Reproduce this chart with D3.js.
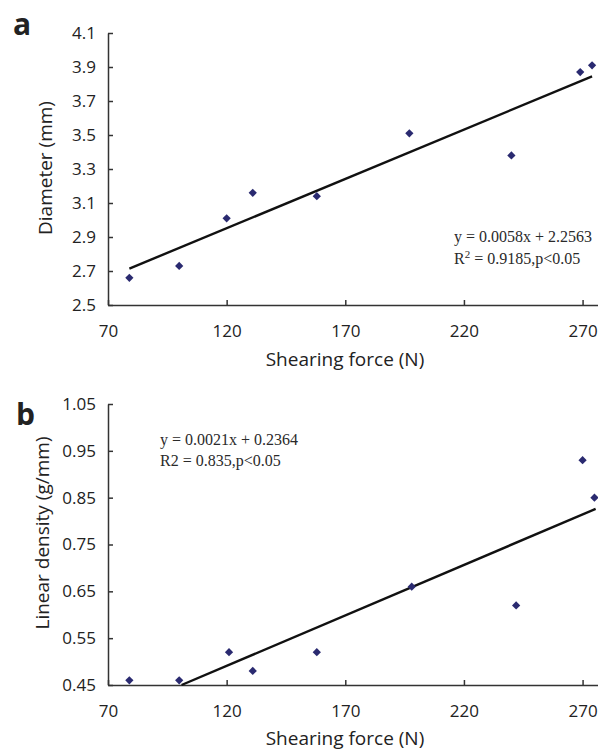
<!DOCTYPE html>
<html>
<head>
<meta charset="utf-8">
<script src="https://cdn.jsdelivr.net/npm/d3@7"></script>
<style>
  body { margin: 0; background: #fff; }
  svg { display: block; }
  .tick text { font-family: "Open Sans", sans-serif; font-size: 17px; fill: #222; }
  .domain, .tick line { stroke: #333; stroke-width: 1.5; }
</style>
</head>
<body>
<svg id="chart" width="598" height="752"></svg>
<script>
// ---- Data ----
const shearA = [79, 100, 120, 131, 158, 197, 240, 269, 274];
const diameter = [2.66, 2.73, 3.01, 3.16, 3.14, 3.51, 3.38, 3.87, 3.91];
const fitA_x = [79, 274];
const fitA_y = [2.714, 3.845];

const shearB = [79, 100, 121, 131, 158, 198, 242, 270, 275];
const linDensity = [0.46, 0.46, 0.52, 0.48, 0.52, 0.66, 0.62, 0.93, 0.85];
const fitB_x = [101, 275.5];
const fitB_y = [0.45, 0.826];

const xTicks = [70, 120, 170, 220, 270];
const yTicksA = [2.5, 2.7, 2.9, 3.1, 3.3, 3.5, 3.7, 3.9, 4.1];
const yTicksB = [0.45, 0.55, 0.65, 0.75, 0.85, 0.95, 1.05];

const eqA = ["y = 0.0058x + 2.2563", "R", "2", " = 0.9185,p<0.05"];
const eqB = ["y = 0.0021x + 0.2364", "R2 = 0.835,p<0.05"];

// ---- Drawing ----
const svg = d3.select("#chart");
const markColor = "#2a2a70";

function panel(opts) {
  const g = svg.append("g");
  const x = d3.scaleLinear().domain([70, 276.5]).range([108, 598]);
  const y = d3.scaleLinear().domain(opts.yDomain).range([opts.bottom, opts.top]);

  g.append("g")
    .attr("transform", `translate(0,${opts.bottom})`)
    .call(d3.axisBottom(x).tickValues(xTicks).tickFormat(d3.format("d"))
      .tickSizeInner(-5).tickSizeOuter(0).tickPadding(20));

  g.append("g")
    .attr("transform", `translate(108,0)`)
    .call(d3.axisLeft(y).tickValues(opts.yTicks).tickFormat(opts.fmt)
      .tickSizeInner(-5).tickSizeOuter(0).tickPadding(12));

  // fit line
  const line = d3.line().x(d => x(d[0])).y(d => y(d[1]));
  g.append("path")
    .datum(opts.fitX.map((v, i) => [v, opts.fitY[i]]))
    .attr("d", line)
    .attr("fill", "none")
    .attr("stroke", "#111")
    .attr("stroke-width", 2.4);

  // markers (square rotated 45deg -> diamond)
  const sym = d3.symbol().type(d3.symbolSquare).size(34);
  g.selectAll("path.pt")
    .data(opts.xs.map((v, i) => [v, opts.ys[i]]))
    .join("path")
    .attr("class", "pt")
    .attr("d", sym)
    .attr("transform", d => `translate(${x(d[0])},${y(d[1])}) rotate(45)`)
    .attr("fill", markColor);

  // panel letter
  g.append("text")
    .attr("x", opts.letterX).attr("y", opts.letterY)
    .attr("font-family", "Open Sans, sans-serif")
    .attr("font-weight", "bold")
    .attr("font-size", 30)
    .attr("fill", "#222")
    .text(opts.letter);

  // x title
  g.append("text")
    .attr("x", 345).attr("y", opts.xTitleY)
    .attr("text-anchor", "middle")
    .attr("font-family", "Open Sans, sans-serif")
    .attr("font-size", 19)
    .attr("fill", "#222")
    .text("Shearing force (N)");

  // y title
  g.append("text")
    .attr("transform", `translate(${opts.yTitleX},${opts.yTitleCY}) rotate(-90)`)
    .attr("text-anchor", "middle")
    .attr("font-family", "Open Sans, sans-serif")
    .attr("font-size", 19)
    .attr("fill", "#222")
    .text(opts.yTitle);

  return { g, x, y };
}

const A = panel({
  xs: shearA, ys: diameter, fitX: fitA_x, fitY: fitA_y,
  yDomain: [2.5, 4.1], yTicks: yTicksA, fmt: d3.format(".1f"),
  top: 33, bottom: 305,
  letter: "a", letterX: 13, letterY: 35,
  xTitleY: 366, yTitle: "Diameter (mm)", yTitleX: 52, yTitleCY: 168
});

const B = panel({
  xs: shearB, ys: linDensity, fitX: fitB_x, fitY: fitB_y,
  yDomain: [0.45, 1.05], yTicks: yTicksB, fmt: d3.format(".2f"),
  top: 404, bottom: 685,
  letter: "b", letterX: 16, letterY: 425,
  xTitleY: 745, yTitle: "Linear density (g/mm)", yTitleX: 49, yTitleCY: 533
});

// equations
const serif = "Liberation Serif, Times New Roman, serif";
A.g.append("text")
  .attr("x", 454).attr("y", 242)
  .attr("font-family", serif).attr("font-size", 16).attr("fill", "#2a2a2a")
  .text(eqA[0]);
const r2 = A.g.append("text")
  .attr("x", 454).attr("y", 264)
  .attr("font-family", serif).attr("font-size", 16).attr("fill", "#2a2a2a");
r2.append("tspan").text(eqA[1]);
r2.append("tspan").attr("dy", -6).attr("font-size", 11).text(eqA[2]);
r2.append("tspan").attr("dy", 6).text(eqA[3]);

B.g.append("text")
  .attr("x", 160).attr("y", 445)
  .attr("font-family", serif).attr("font-size", 16).attr("fill", "#2a2a2a")
  .text(eqB[0]);
B.g.append("text")
  .attr("x", 160).attr("y", 466)
  .attr("font-family", serif).attr("font-size", 16).attr("fill", "#2a2a2a")
  .text(eqB[1]);
</script>
</body>
</html>
